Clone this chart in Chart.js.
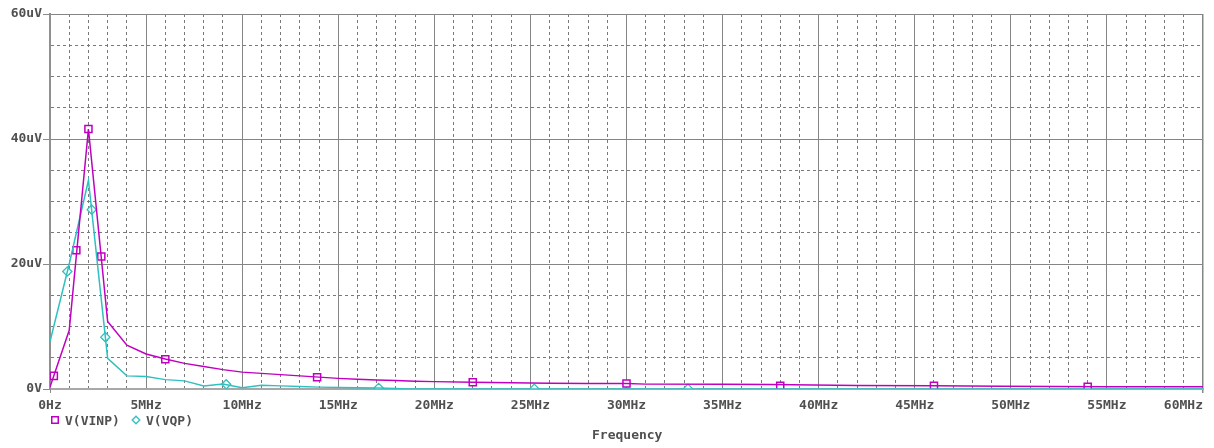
<!DOCTYPE html>
<html lang="en">
<head>
    <meta charset="UTF-8">
    <title>Frequency</title>
    <script src="https://cdn.jsdelivr.net/npm/chart.js"></script>
    <style>
        body { margin: 0; background: #fff; }
        .wrap { position: relative; width: 1214px; height: 448px; }
        .wrap canvas { position: absolute; left: 0; top: 0; }
        .wrap svg { position: absolute; }
        .txt { position: absolute; font: bold 13px "DejaVu Sans Mono", monospace; color: #505050; line-height: 16px; white-space: nowrap; }
    </style>
</head>
<body>
    <div class="wrap">
        <canvas id="fft" width="1214" height="448"></canvas>
        <svg style="left:50px; top:415px;" width="10" height="10">
            <rect x="1.75" y="1.75" width="6.5" height="6.5" fill="#fff" stroke="#c000c0" stroke-width="1.5"/>
        </svg>
        <span class="txt" style="left:65px; top:413px;">V(VINP)</span>
        <svg style="left:131px; top:415px;" width="10" height="10">
            <path d="M5 1.2 L8.8 5 L5 8.8 L1.2 5 Z" fill="#fff" stroke="#30c0c0" stroke-width="1.3"/>
        </svg>
        <span class="txt" style="left:146px; top:413px;">V(VQP)</span>
        <span class="txt" style="left:592px; top:427px;">Frequency</span>
    </div>
    <script>
        // frequency in MHz, voltage in uV
        const xTickLabels = ['0Hz', '5MHz', '10MHz', '15MHz', '20MHz', '25MHz', '30MHz', '35MHz', '40MHz', '45MHz', '50MHz', '55MHz', '60MHz'];
        const yTickLabels = ['0V', '20uV', '40uV', '60uV'];

        const vinpFreq = [0, 1, 2, 3, 4, 5, 6, 7, 8, 9, 10, 11, 12, 13, 14, 15, 16, 17, 18, 19, 20, 22, 24, 26, 28, 30, 31, 35, 37.5, 42, 46, 49.5, 55, 60];
        const vinpVolt = [0.3, 9.4, 41.6, 10.8, 7.0, 5.6, 4.8, 4.1, 3.6, 3.1, 2.7, 2.5, 2.3, 2.1, 1.9, 1.7, 1.55, 1.45, 1.35, 1.25, 1.18, 1.07, 1.0, 0.92, 0.9, 0.88, 0.78, 0.75, 0.72, 0.55, 0.53, 0.45, 0.37, 0.37];
        const vqpFreq = [0, 1, 2, 3, 4, 5, 6, 7, 8, 9, 10, 11, 12, 13, 14, 16, 17, 18, 18.6, 25, 30, 36, 40, 50, 60];
        const vqpVolt = [7.6, 20.0, 33.4, 4.9, 2.1, 2.0, 1.5, 1.3, 0.5, 0.8, 0.2, 0.6, 0.5, 0.4, 0.3, 0.2, 0.15, 0.1, 0.02, 0.02, 0.02, 0.02, 0.02, 0.0, 0.0];

        // trace markers
        const vinpMarkFreq = [0.2, 1.37, 2.0, 2.67, 6.0, 13.9, 22.0, 30.0, 38.0, 46.0, 54.0];
        const vinpMarkVolt = [2.1, 22.2, 41.6, 21.2, 4.75, 1.87, 1.07, 0.88, 0.53, 0.53, 0.37];
        const vqpMarkFreq = [0.9, 2.17, 2.88, 9.17, 17.1, 25.2, 33.2];
        const vqpMarkVolt = [18.8, 28.7, 8.3, 0.75, 0.16, 0.05, 0.05];

        const pts = (xs, ys) => xs.map((x, i) => ({ x: x, y: ys[i] }));

        const magenta = '#c000c0';
        const cyan = '#30c0c0';
        const majorGrid = '#858585';
        const minorGrid = '#7a7a7a';
        const tickFont = { family: 'DejaVu Sans Mono', size: 13, weight: 'bold' };

        // right-align the last x label so it stays inside the frame
        const lastLabelRight = {
            id: 'lastLabelRight',
            beforeDraw(chart) {
                const items = chart.scales.x.getLabelItems(chart.chartArea);
                items[items.length - 1].options.textAlign = 'right';
            }
        };

        new Chart(document.getElementById('fft'), {
            type: 'line',
            data: {
                datasets: [
                    {
                        label: 'V(VINP)',
                        data: pts(vinpFreq, vinpVolt),
                        borderColor: magenta,
                        borderWidth: 1.5,
                        pointRadius: 0,
                        tension: 0
                    },
                    {
                        label: 'V(VQP)',
                        data: pts(vqpFreq, vqpVolt),
                        borderColor: cyan,
                        borderWidth: 1.5,
                        pointRadius: 0,
                        tension: 0
                    },
                    {
                        label: 'V(VINP) markers',
                        data: pts(vinpMarkFreq, vinpMarkVolt),
                        showLine: false,
                        pointStyle: 'rect',
                        pointRadius: 5,
                        pointBorderWidth: 1.5,
                        pointBorderColor: magenta,
                        pointBackgroundColor: '#fff'
                    },
                    {
                        label: 'V(VQP) markers',
                        data: pts(vqpMarkFreq, vqpMarkVolt),
                        showLine: false,
                        pointStyle: 'rectRot',
                        pointRadius: 4.6,
                        pointBorderWidth: 1.3,
                        pointBorderColor: cyan,
                        pointBackgroundColor: '#fff'
                    }
                ]
            },
            options: {
                responsive: false,
                animation: false,
                layout: { padding: { top: 14, right: 11, left: 0, bottom: 0 } },
                plugins: {
                    legend: { display: false },
                    tooltip: { enabled: false }
                },
                scales: {
                    x: {
                        type: 'linear',
                        min: 0,
                        max: 60,
                        afterFit(scale) {
                            scale.height = 59;
                            scale.paddingRight = 0;
                        },
                        ticks: {
                            stepSize: 1,
                            autoSkip: false,
                            maxRotation: 0,
                            padding: 5,
                            color: '#505050',
                            font: tickFont,
                            callback: v => (v % 5 === 0 ? xTickLabels[v / 5] : '')
                        },
                        grid: {
                            color: ctx => (ctx.tick && ctx.tick.value % 5 === 0 ? majorGrid : minorGrid),
                            lineWidth: ctx => (ctx.tick && ctx.tick.value === 60 ? 1.5 : 1),
                            tickLength: 4,
                            tickColor: ctx => (ctx.tick && (ctx.tick.value === 0 || ctx.tick.value === 60) ? '#8a8a8a' : 'rgba(0,0,0,0)')
                        },
                        border: {
                            color: '#a8a8a8',
                            width: 2,
                            dash: ctx => (ctx.tick && ctx.tick.value % 5 !== 0 ? [3, 3] : [])
                        }
                    },
                    y: {
                        min: 0,
                        max: 60,
                        afterFit(scale) {
                            scale.width = 50;
                        },
                        ticks: {
                            stepSize: 5,
                            padding: 1,
                            color: '#505050',
                            font: tickFont,
                            callback: v => (v % 20 === 0 ? yTickLabels[v / 20] : '')
                        },
                        grid: {
                            color: ctx => (ctx.tick && ctx.tick.value % 20 === 0 ? majorGrid : minorGrid),
                            tickLength: 7,
                            tickColor: ctx => (ctx.tick && ctx.tick.value % 20 === 0 ? '#8a8a8a' : 'rgba(0,0,0,0)')
                        },
                        border: {
                            color: '#909090',
                            width: 2,
                            dash: ctx => (ctx.tick && ctx.tick.value % 20 !== 0 ? [3, 3] : [])
                        }
                    }
                }
            },
            plugins: [lastLabelRight]
        });
    </script>
</body>
</html>
